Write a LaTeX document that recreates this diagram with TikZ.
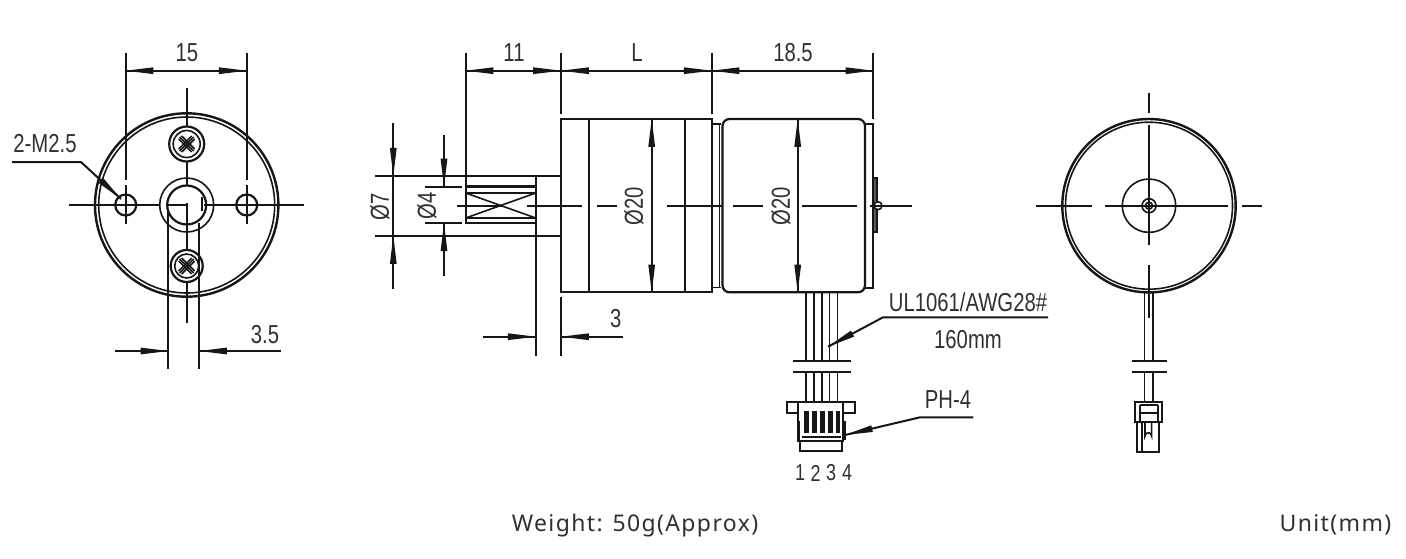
\documentclass[tikz,border=0pt]{standalone}
\usepackage{fontspec}
\usetikzlibrary{calc}
\newfontfamily\cadfont[FakeStretch=0.78]{Liberation Sans}
\newfontfamily\notefont[LetterSpace=6]{Noto Sans}
\definecolor{ink}{HTML}{161616}
\definecolor{txt}{HTML}{303030}
\tikzset{
  outline/.style={draw=ink,line width=2.2pt},
  thin part/.style={draw=ink,line width=1.6pt},
  axis/.style={draw=ink,line width=1.7pt},
  ext/.style={draw=ink,line width=1.9pt},
  lead/.style={draw=ink,line width=2pt},
  cadtext/.style={text=txt,font=\cadfont\fontsize{26}{26}\selectfont,inner sep=0pt},
  smalltext/.style={text=txt,font=\cadfont\fontsize{23}{23}\selectfont,inner sep=0pt},
  note/.style={text=txt,font=\notefont\fontsize{23}{23}\selectfont,inner sep=0pt}
}
% long drawn-out arrow head: tip at #1, pointing away from #2
\newcommand\headat[2]{\fill[ink] (#1) -- ($(#1)!28pt!7:(#2)$) -- ($(#1)!28pt!-7:(#2)$) -- cycle;}
\newcommand\dimboth[2]{\draw[ext] (#1) -- (#2); \headat{#1}{#2} \headat{#2}{#1}}
\newcommand\dimone[2]{\draw[ext] (#1) -- (#2); \headat{#2}{#1}}
\begin{document}
\begin{tikzpicture}[x=1pt,y=-1pt]
\useasboundingbox[fill=white] (0,0) rectangle (1406,558);
% ---- left view
\draw[outline,line width=2.4pt] (186.7,205) circle (91.7);
\draw[thin part] (186.7,205) circle (88);
\draw[axis] (69,205) -- (304,205);
\draw[axis] (186.7,88) -- (186.7,323);
\draw[thin part,fill=white] (186.7,205) circle (27);
\draw[outline,fill=white] (186.7,205) circle (19.5);
\draw[axis] (186.7,203) -- (186.7,323);
\draw[axis] (186.7,160) -- (186.7,185);
\draw[axis] (167,205) -- (187,205);
\draw[axis] (204,205) -- (214,205);
\draw[thin part] (201.7,197) -- (201.7,211);
\foreach \cy/\r in {144/17.5,266/16}{
  \draw[outline,fill=white] (186.7,\cy) circle (\r);
  \draw[thin part] (186.7,\cy) circle (\r-4);
  \draw[thin part] (186.7-7,\cy-7) -- (186.7+7,\cy+7) (186.7-7,\cy+7) -- (186.7+7,\cy-7);
  \draw[thin part] (186.7-8,\cy-5) -- (186.7+5,\cy+8) (186.7-5,\cy-8) -- (186.7+8,\cy+5)
                   (186.7-8,\cy+5) -- (186.7+5,\cy-8) (186.7-5,\cy+8) -- (186.7+8,\cy-5);
}
\foreach \hx in {125.7,246.7}{
  \draw[outline,fill=white] (\hx,205) circle (10.5);
  \draw[axis] (\hx-16,205) -- (\hx+16,205);
  \draw[axis] (\hx,185) -- (\hx,224);
}
\draw[ext] (125.7,52.7) -- (125.7,180);
\draw[ext] (246.7,52.7) -- (246.7,180);
\dimboth{125.7,70.7}{246.7,70.7}
\node[cadtext] (d15) at (187,53) {15};
\draw[ext] (168.3,212) -- (168.3,369);
\draw[ext] (199,223) -- (199,369);
\dimone{115,351}{168.3,351}
\dimone{281,351}{199,351}
\node[cadtext] (d35) at (265,335) {3.5};
\node[cadtext] (m25) at (45,144) {2-M2.5};
\draw[lead] (12,162) -- (81,162) -- (121,199);
\headat{121,199}{81,162}
% ---- gearbox and shaft
\draw[outline] (561,119) rectangle (711.7,292.3);
\draw[outline] (589.3,119) -- (589.3,292.3);
\draw[outline] (685,119) -- (685,292.3);
\draw[thin part] (375,175.7) -- (561,175.7);
\draw[thin part] (375,236) -- (561,236);
\draw[ext] (535.7,175.7) -- (535.7,356);
\draw[outline] (465.7,186.5) -- (535.7,186.5);
\draw[outline] (465.7,223.3) -- (535.7,223.3);
\draw[thin part] (465.7,193) -- (535.7,193);
\draw[thin part] (465.7,218) -- (535.7,218);
\draw[thin part] (465.7,193) -- (535.7,218);
\draw[thin part] (465.7,218) -- (535.7,193);
\draw[ext] (465.7,52.7) -- (465.7,224);
\draw[ext] (561,52.7) -- (561,114);
\draw[ext] (711.7,52.7) -- (711.7,114);
\draw[ext] (873.3,52.7) -- (873.3,119);
\draw[ext] (425,187) -- (462,187);
\draw[ext] (425,223) -- (462,223);
% ---- motor
\draw[thin part] (711.7,124) -- (721,124);
\draw[thin part] (711.7,287.5) -- (721,287.5);
\draw[thin part] (719.5,124) -- (719.5,287.5);
\draw[outline,rounded corners=7pt] (722.5,119) rectangle (865,292.3);
\draw[outline] (865,123.7) -- (873.3,123.7) -- (873.3,287.7) -- (865,287.7);
\draw[outline,fill=ink!70] (873.3,178) rectangle (877,232);
\draw[thin part,fill=white] (878,205.7) circle (4);
% ---- centre line of the side view
\draw[axis] (457.3,205.7) -- (503,205.7) (526.7,205.7) -- (581.7,205.7) (596.7,205.7) -- (616.7,205.7)
            (666.7,205.7) -- (723,205.7) (733,205.7) -- (763,205.7) (802,205.7) -- (857,205.7) (870,205.7) -- (912,205.7);
% ---- side view dimensions
\dimboth{465.7,70.7}{561,70.7}
\dimboth{561,70.7}{711.7,70.7}
\dimboth{711.7,70.7}{873.3,70.7}
\node[cadtext] (d11) at (514,53) {11};
\node[cadtext] (dL) at (637,53) {L};
\node[cadtext] (d185) at (793,53) {18.5};
\dimone{393.3,122.7}{393.3,175.7}
\dimone{393.3,289}{393.3,236}
\draw[ext] (393.3,175.7) -- (393.3,236);
\node[cadtext,rotate=90] (d7) at (380,207) {Ø7};
\dimone{444,135}{444,186.5}
\dimone{444,276}{444,223.3}
\node[cadtext,rotate=90] (d4) at (427,205.5) {Ø4};
\dimboth{651.7,119}{651.7,292.3}
\node[cadtext,rotate=90] (d20a) at (634,206) {Ø20};
\dimboth{797.7,119}{797.7,292.3}
\node[cadtext,rotate=90] (d20b) at (781,206) {Ø20};
\draw[ext] (561,296.7) -- (561,356);
\dimone{482.7,336.7}{535.7,336.7}
\dimone{622.7,336.7}{561,336.7}
\node[cadtext] (d3) at (615.7,319) {3};
% ---- wires and connector
\foreach \wx in {805.7,814,821.7,829.3,837.3}{
  \draw[thin part] (\wx,292.3) -- (\wx,361);
  \draw[thin part] (\wx,372.3) -- (\wx,401.7);
}
\draw[ext] (793,361) -- (851,361);
\draw[ext] (793,372.3) -- (851,372.3);
\draw[outline] (787.3,401.7) rectangle (855,413.3);
\draw[outline,fill=white] (798.3,401.7) rectangle (843.3,441);
\draw[outline] (800,441) -- (800,451) -- (842,451) -- (842,441);
\draw[outline,line width=3pt] (798,421) -- (798,440);
\draw[outline,line width=3pt] (844,421) -- (844,440);
\foreach \px in {806.5,814.5,822.5,830.5,838}{
  \draw[ink,line width=4.2pt] (\px,411) -- (\px,433);
}
\draw[outline,line width=2.4pt] (802,437) -- (841,437);
\draw[lead] (973.3,417.3) -- (920,417.3) -- (845,435);
\headat{845,435}{920,417.3}
\node[cadtext] (ph4) at (948,400) {PH-4};
\draw[lead] (1048,317.3) -- (883,317.3) -- (828,346.7);
\headat{828,346.7}{883,317.3}
\node[cadtext] (ul) at (968,302) {UL1061/AWG28\#};
\node[cadtext] (mm) at (968,340) {160mm};
\node[smalltext] (n1) at (800,473) {1};
\node[smalltext] (n2) at (815.7,473) {2};
\node[smalltext] (n3) at (831,473) {3};
\node[smalltext] (n4) at (847,473) {4};
% ---- right view
\draw[outline,line width=2.4pt] (1149,205.7) circle (86.7);
\draw[thin part] (1149,205.7) circle (83.5);
\draw[thin part] (1149,205.7) circle (26.7);
\draw[thin part] (1149,205.7) circle (7);
\draw[thin part] (1149,205.7) circle (3.5);
\draw[axis] (1036,205.7) -- (1092,205.7) (1105,205.7) -- (1228,205.7) (1242,205.7) -- (1262,205.7);
\draw[axis] (1149,93) -- (1149,113) (1149,125) -- (1149,245) (1149,265) -- (1149,318);
\draw[line width=2.8pt,draw=ink] (1149,292) -- (1149,318);
\draw[thin part] (1144.3,292) -- (1144.3,361) (1152.7,292) -- (1152.7,361)
                 (1144.3,371.7) -- (1144.3,401.7) (1152.7,371.7) -- (1152.7,401.7);
\draw[ext] (1131.7,361) -- (1166.7,361);
\draw[ext] (1131.7,371.7) -- (1166.7,371.7);
\draw[outline] (1135,401.7) rectangle (1162.3,422.3);
\draw[thin part] (1140,413) -- (1158,413);
\draw[thin part] (1140,405) -- (1158,405);
\draw[thin part] (1140,405) -- (1140,422) (1158,405) -- (1158,422);
\draw[outline] (1137.3,422.3) -- (1137.3,451.7) -- (1159.3,451.7) -- (1159.3,422.3);
\draw[thin part] (1145,422.3) -- (1145,436) arc[start angle=180,end angle=360,radius=3.3] -- (1151.6,422.3);
\draw[thin part] (1142,422.3) -- (1142,451.7);
% ---- notes
\node[note] (weight) at (635,526) {Weight: 50g(Approx)};
\node[note] (unit) at (1335.5,525) {Unit(mm)};
\end{tikzpicture}
\end{document}
